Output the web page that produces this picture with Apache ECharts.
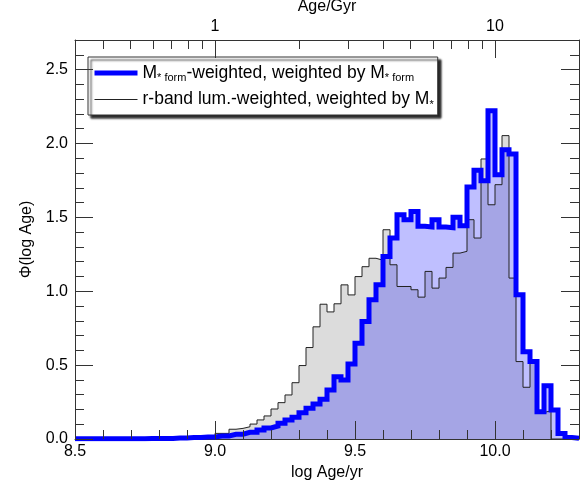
<!DOCTYPE html>
<html>
<head>
<meta charset="utf-8">
<script src="https://cdn.jsdelivr.net/npm/echarts@6/dist/echarts.min.js"></script>
<style>
html,body{margin:0;padding:0;background:#fff;}
#wrap{position:relative;width:588px;height:483px;}
#chart{position:absolute;left:0;top:0;width:588px;height:483px;}
#tickLayer{position:absolute;left:0;top:0;width:588px;height:483px;pointer-events:none;}
</style>
</head>
<body>
<div id="wrap"><div id="chart"></div><div id="tickLayer"></div></div>
<script>
// Histogram bins: left edge of first bin and bin width (log Age/yr)
const binStart = 8.5;
const binWidth = 0.025;

// M*form-weighted (blue, thick) histogram values, one per bin
const mformValues = [
  0.002,0.002,0.002,0.002,0.002,0.002,0.002,0.002,0.002,0.002,
  0.004,0.004,0.004,0.004,0.006,0.006,0.010,0.010,0.014,0.014,
  0.020,0.020,0.032,0.032,0.045,0.045,0.061,0.075,0.088,0.106,
  0.129,0.147,0.178,0.208,0.237,0.269,0.332,0.422,0.400,0.508,
  0.648,0.795,0.942,1.043,1.235,1.360,1.518,1.484,1.540,1.440,
  1.435,1.484,1.435,1.430,1.500,1.443,1.705,1.818,1.748,2.222,
  1.789,1.958,1.929,0.976,0.590,0.524,0.185,0.360,0.196,0.038,
  0.010,0.005
];

// r-band luminosity-weighted (black, thin) histogram values
const rbandValues = [
  0.003,0.003,0.003,0.003,0.003,0.003,0.003,0.003,0.003,0.003,
  0.003,0.003,0.003,0.003,0.003,0.003,0.012,0.012,0.020,0.020,
  0.038,0.038,0.066,0.072,0.083,0.101,0.129,0.156,0.203,0.246,
  0.298,0.381,0.497,0.619,0.759,0.912,0.860,0.915,1.043,0.975,
  1.099,1.166,1.223,1.210,1.416,1.179,1.032,1.032,1.010,0.960,
  1.134,1.021,1.089,1.161,1.258,1.270,1.484,1.360,1.895,1.585,
  1.721,2.053,1.089,0.524,0.350,0.520,0.180,0.190,0.000,0.000,
  0.000,0.000
];

// Axis ranges and tick spacing
const xRange = [8.5, 10.3];
const yRange = [0, 2.7];
const majorStep = 0.5;
const minorStep = 0.1;
// Top axis: Age in Gyr
const topMajorGyr = [1, 10];
const topMinorGyr = [0.4, 0.5, 0.6, 0.7, 0.8, 0.9, 2, 3, 4, 5, 6, 7, 8, 9];

const seriesNames = { mform: 'mform', rband: 'rband' };

function stepPoints(vals) {
  const pts = vals.map((v, i) => [binStart + i * binWidth, v]);
  pts.push([binStart + vals.length * binWidth, vals[vals.length - 1]]);
  return pts;
}
const gyrToLog = g => Math.log10(g * 1e9);

const FONT = 'Liberation Sans, Arial, Helvetica, sans-serif';
const AX = '#333';
const txt = { fontFamily: FONT, fontSize: 16, color: '#000' };
const MAJOR_LEN = 18, MINOR_LEN = 9;
const GRID = { left: 75, right: 9, top: 40, bottom: 44, containLabel: false, outerBoundsMode: 'none' };

function mainAxis(pos, range, extra) {
  return Object.assign({
    type: 'value', position: pos, min: range[0], max: range[1],
    splitLine: { show: false },
    axisLine: { show: true, onZero: false, lineStyle: { color: AX, width: 1 } },
    axisTick: { show: false },
    axisLabel: { show: false }
  }, extra || {});
}

const chart = echarts.init(document.getElementById('chart'), null, { renderer: 'canvas' });

const option = {
  animation: false,
  backgroundColor: '#fff',
  grid: GRID,
  legend: {
    data: [seriesNames.mform, seriesNames.rband],
    orient: 'vertical',
    left: 88, top: 57,
    itemWidth: 43, itemHeight: 14, itemGap: 7,
    padding: [7, 4, 5, 4],
    backgroundColor: '#fff',
    borderColor: '#333', borderWidth: 1,
    shadowColor: 'rgba(0,0,0,0.85)', shadowBlur: 2, shadowOffsetX: 3, shadowOffsetY: 3,
    selectedMode: false,
    itemStyle: { opacity: 0, borderWidth: 0 },
    lineStyle: { width: 'inherit' },
    formatter: function (name) {
      if (name === seriesNames.mform) return '{m|M}{s|* form}{m|-weighted, weighted by M}{s|* form}';
      return '{m|r-band lum.-weighted, weighted by M}{s|*}';
    },
    textStyle: {
      fontFamily: FONT, fontSize: 17.5, color: '#000',
      rich: {
        m: { fontFamily: FONT, fontSize: 17.5, lineHeight: 21, color: '#000' },
        s: { fontFamily: FONT, fontSize: 11, lineHeight: 12, verticalAlign: 'bottom', color: '#000' }
      }
    }
  },
  xAxis: [
    mainAxis('bottom', xRange, {
      interval: majorStep,
      name: 'log Age/yr', nameLocation: 'middle', nameGap: 20, nameTextStyle: txt,
      axisLabel: Object.assign({ show: true, margin: 5, showMaxLabel: false,
        formatter: v => Number(v).toFixed(1) }, txt)
    }),
    mainAxis('top', xRange, {
      name: 'Age/Gyr', nameLocation: 'middle', nameGap: 18, nameTextStyle: txt,
      axisLabel: Object.assign({ show: true, margin: 5, customValues: topMajorGyr.map(gyrToLog),
        formatter: v => String(Math.round(Math.pow(10, v - 9) * 100) / 100) }, txt)
    })
  ],
  yAxis: [
    mainAxis('left', yRange, {
      interval: majorStep,
      name: 'Φ(log Age)', nameLocation: 'middle', nameGap: 40, nameRotate: 90, nameTextStyle: txt,
      axisLabel: Object.assign({ show: true, margin: 7, showMaxLabel: false,
        formatter: v => Number(v).toFixed(1) }, txt)
    }),
    mainAxis('right', yRange, { interval: majorStep })
  ],
  series: [
    {
      name: 'rbandArea', type: 'line', step: 'end', data: stepPoints(rbandValues),
      xAxisIndex: 0, yAxisIndex: 0, symbol: 'none', silent: true, z: 1,
      lineStyle: { width: 0, opacity: 0 },
      areaStyle: { color: '#dcdcdc', opacity: 1, origin: 'start' }
    },
    {
      name: 'mformArea', type: 'line', step: 'end', data: stepPoints(mformValues),
      xAxisIndex: 0, yAxisIndex: 0, symbol: 'none', silent: true, z: 2,
      lineStyle: { width: 0, opacity: 0 },
      areaStyle: { color: 'rgba(0,0,255,0.25)', opacity: 1, origin: 'start' }
    },
    {
      name: seriesNames.rband, type: 'line', step: 'end', data: stepPoints(rbandValues),
      xAxisIndex: 0, yAxisIndex: 0, symbol: 'none', silent: true, z: 3,
      color: '#222',
      lineStyle: { color: '#222', width: 1, join: 'miter' }
    },
    {
      name: seriesNames.mform, type: 'line', step: 'end', data: stepPoints(mformValues),
      xAxisIndex: 0, yAxisIndex: 0, symbol: 'none', silent: true, z: 4,
      color: '#0000ff',
      lineStyle: { color: '#0000ff', width: 5, join: 'miter' }
    }
  ]
};
chart.setOption(option);

// Transparent overlay holding the inward tick marks of all four axes
function tickAxis(pos, range, len, extra) {
  return Object.assign({
    type: 'value', position: pos, min: range[0], max: range[1],
    splitLine: { show: false },
    axisLine: { show: false, onZero: false },
    axisTick: { show: true, inside: true, length: len, lineStyle: { color: AX, width: 1 } },
    axisLabel: { show: false }
  }, extra || {});
}
const tickChart = echarts.init(document.getElementById('tickLayer'));
tickChart.setOption({
  animation: false,
  grid: GRID,
  xAxis: [
    tickAxis('bottom', xRange, MAJOR_LEN, { interval: majorStep }),
    tickAxis('bottom', xRange, MINOR_LEN, { interval: minorStep }),
    tickAxis('top', xRange, MAJOR_LEN, {
      axisTick: { show: true, inside: true, length: MAJOR_LEN, customValues: topMajorGyr.map(gyrToLog), lineStyle: { color: AX, width: 1 } } }),
    tickAxis('top', xRange, MINOR_LEN, {
      axisTick: { show: true, inside: true, length: MINOR_LEN, customValues: topMinorGyr.map(gyrToLog), lineStyle: { color: AX, width: 1 } } })
  ],
  yAxis: [
    tickAxis('left', yRange, MAJOR_LEN, { interval: majorStep }),
    tickAxis('left', yRange, MINOR_LEN, { interval: minorStep }),
    tickAxis('right', yRange, MAJOR_LEN, { interval: majorStep }),
    tickAxis('right', yRange, MINOR_LEN, { interval: minorStep })
  ],
  series: [{ type: 'line', data: [], symbol: 'none', xAxisIndex: 0, yAxisIndex: 0, silent: true }]
});
</script>
</body>
</html>
